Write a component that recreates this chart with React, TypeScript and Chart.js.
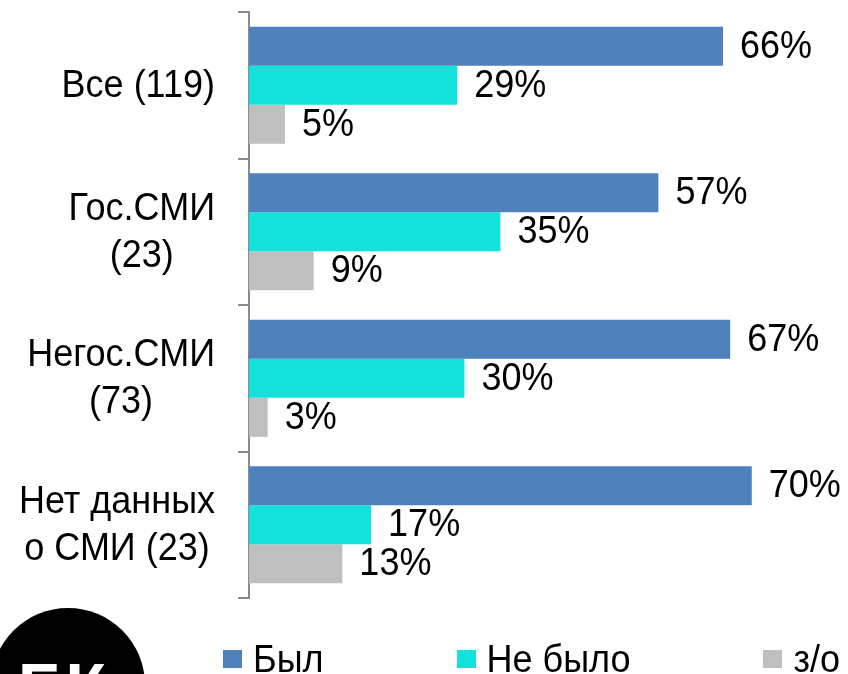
import { useEffect, useRef } from "react";
import { Chart, registerables } from "chart.js";

Chart.register(...registerables);

const categories: string[][] = [
  ["Все (119)"],
  ["Гос.СМИ", "(23)"],
  ["Негос.СМИ", "(73)"],
  ["Нет данных", "о СМИ (23)"],
];
const seriesNames = ["Был", "Не было", "з/о"];
const bylValues = [66, 57, 67, 70];
const neByloValues = [29, 35, 30, 17];
const zoValues = [5, 9, 2.6, 13];
const seriesColors = ["#4F81BD", "#13E2DA", "#BFBFBF"];
const X_MAX = 83.4;
const FONT = '"Liberation Sans", Arial, sans-serif';
const TEXT_STRETCH = 1.07;

function stretchedText(ctx: CanvasRenderingContext2D, text: string, x: number, y: number) {
  ctx.save();
  ctx.translate(x, y);
  ctx.scale(1, TEXT_STRETCH);
  ctx.fillText(text, 0, 0);
  ctx.restore();
}

const labelsPlugin = {
  id: "customLabels",
  afterDatasetsDraw(chart: any) {
    const ctx = chart.ctx as CanvasRenderingContext2D;
    ctx.save();
    ctx.font = `36px ${FONT}`;
    ctx.fillStyle = "#000";
    ctx.textBaseline = "middle";
    ctx.textAlign = "left";
    chart.data.datasets.forEach((ds: any, di: number) => {
      const meta = chart.getDatasetMeta(di);
      meta.data.forEach((bar: any, i: number) => {
        stretchedText(ctx, `${Math.round(ds.data[i])}%`, bar.x + 17, bar.y + 1);
      });
    });
    const y = chart.scales.y;
    const right = y.right - 34;
    const lh = 47;
    ctx.textAlign = "center";
    categories.forEach((lines, i) => {
      const cy = y.getPixelForTick(i);
      const bw = Math.max(...lines.map((l) => ctx.measureText(l).width));
      const cx = right - bw / 2;
      lines.forEach((l, k) => {
        stretchedText(ctx, l, cx, cy + 1 + (k - (lines.length - 1) / 2) * lh);
      });
    });
    ctx.restore();
  },
};

export default function App() {
  const ref = useRef<HTMLCanvasElement | null>(null);
  useEffect(() => {
    if (!ref.current) return;
    Chart.defaults.font.family = FONT;
    const chart = new Chart(ref.current, {
      type: "bar",
      data: {
        labels: categories.map((l) => l.join(" ")),
        datasets: [
          { label: seriesNames[0], data: bylValues, backgroundColor: seriesColors[0] },
          { label: seriesNames[1], data: neByloValues, backgroundColor: seriesColors[1] },
          { label: seriesNames[2], data: zoValues, backgroundColor: seriesColors[2] },
        ],
      },
      options: {
        indexAxis: "y",
        animation: false,
        responsive: false,
        devicePixelRatio: 1,
        datasets: { bar: { categoryPercentage: 0.8, barPercentage: 1.0 } },
        layout: { padding: { top: 12, bottom: 76, left: 0, right: 0 } },
        plugins: { legend: { display: false }, tooltip: { enabled: false } },
        scales: {
          x: { display: false, min: 0, max: X_MAX },
          y: {
            position: "left",
            grid: {
              drawOnChartArea: false,
              drawTicks: true,
              tickLength: 11,
              color: "#8C8C8C",
              lineWidth: 2,
              offset: true,
            },
            border: { display: true, color: "#8C8C8C", width: 2 },
            ticks: { display: false },
            afterFit(scale: any) {
              scale.width = 249;
            },
          },
        },
      } as any,
      plugins: [labelsPlugin],
    });
    return () => chart.destroy();
  }, []);

  return (
    <div
      style={{
        position: "fixed",
        left: 0,
        top: 0,
        width: 848,
        height: 674,
        overflow: "hidden",
        background: "#fff",
      }}
    >
      <canvas ref={ref} width={848} height={674} style={{ display: "block" }} />
      <div
        style={{
          position: "absolute",
          left: -9,
          top: 608,
          width: 154,
          height: 154,
          borderRadius: "50%",
          background: "#000",
        }}
      />
      <div
        style={{
          position: "absolute",
          left: 18,
          top: 654,
          fontFamily: FONT,
          fontWeight: "bold",
          fontSize: 66,
          lineHeight: "66px",
          color: "#fff",
        }}
      >
        БК
      </div>
      <div
        style={{
          position: "absolute",
          left: 223,
          top: 641,
          display: "flex",
          columnGap: 133,
          fontFamily: FONT,
          fontSize: 36,
          lineHeight: "36px",
          color: "#000",
          whiteSpace: "nowrap",
        }}
      >
        {seriesNames.map((n, i) => (
          <div key={n} style={{ display: "flex", alignItems: "center" }}>
            <span
              style={{
                display: "inline-block",
                width: 19,
                height: 18,
                background: seriesColors[i],
                marginRight: 11,
              }}
            />
            <span style={{ display: "inline-block", transform: `scaleY(${TEXT_STRETCH})` }}>{n}</span>
          </div>
        ))}
      </div>
    </div>
  );
}
